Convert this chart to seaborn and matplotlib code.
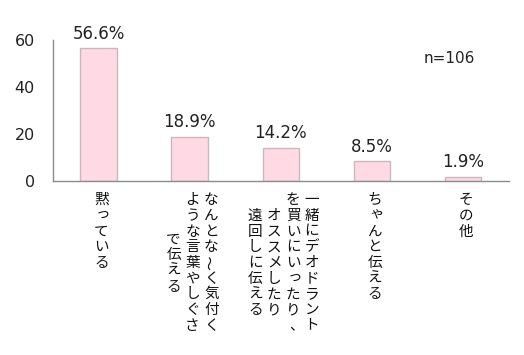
import matplotlib
matplotlib.use("Agg")
import matplotlib.pyplot as plt
import seaborn as sns
import pandas as pd

# answers (as shown in the survey chart) and percentages
categories = [
    "黙っている",
    "なんとな～く気付くような言葉やしぐさで伝える",
    "一緒にデオドラントを買いにいったり、オススメしたり遠回しに伝える",
    "ちゃんと伝える",
    "その他",
]
values = [56.6, 18.9, 14.2, 8.5, 1.9]
# vertical label columns, right to left
label_columns = [
    ["黙っている"],
    ["なんとな～く気付く", "ような言葉やしぐさ", "で伝える"],
    ["一緒にデオドラント", "を買いにいったり、", "オススメしたり", "遠回しに伝える"],
    ["ちゃんと伝える"],
    ["その他"],
]
y_ticks = [0, 20, 40, 60]
n_text = "n=106"

sns.set_style("white")
plt.rcParams["font.family"] = ["DejaVu Sans", "Noto Sans CJK JP"]

df = pd.DataFrame({"answer": categories, "pct": values})

fig = plt.figure(figsize=(5.24, 3.55), dpi=100)
ax = fig.add_axes([0.101, 0.490, 0.870, 0.397])

sns.barplot(data=df, x="answer", y="pct", ax=ax, width=0.4,
            color="#FFDAE4", edgecolor="#C9B9BE", linewidth=1.0,
            saturation=1)

ax.set_ylim(0, 60)
ax.set_xlim(-0.5, len(categories) - 0.5)
ax.set_yticks(y_ticks)
ax.set_xticks([i - 0.5 for i in range(len(categories) + 1)])
ax.set_xticklabels([])
ax.set_xlabel("")
ax.set_ylabel("")
sns.despine(ax=ax)
for side in ["left", "bottom"]:
    ax.spines[side].set_color("#8C8C8C")
    ax.spines[side].set_linewidth(1.0)
ax.tick_params(axis="y", length=3, width=1, color="#8C8C8C", pad=10,
               labelsize=11.5, labelcolor="#222222")
ax.tick_params(axis="x", length=4, width=1, color="#8C8C8C")

ax.bar_label(ax.containers[0], labels=[f"{v:.1f}%" for v in values],
             padding=4, fontsize=12, color="#222222")

ax.text(0.87, 0.872, n_text, transform=ax.transAxes, ha="center",
        va="center", fontsize=11, color="#222222")

# vertical japanese labels, one glyph at a time
small = set("っゃゅょぁぃぅぇぉッャュョ")
step = 11.3   # points between characters
col_gap = 13.6
top = -13.8
jp = ["Noto Sans CJK JP"]
for i, cols in enumerate(label_columns):
    longest = max(len(c) for c in cols)
    ncol = len(cols)
    for j, col in enumerate(cols):
        x_off = 2 + ((ncol - 1) / 2 - j) * col_gap
        start = top - (longest - len(col)) / 2 * step
        for k, ch in enumerate(col):
            dx, dy, rot = 0, 0, 0
            if ch in small:
                dx, dy = 1.2, 1.2
            elif ch == "、":
                dx, dy = 2.5, 0
            elif ch == "～":
                rot = 90
            ax.annotate(ch, xy=(i, 0), xycoords=ax.get_xaxis_transform(),
                        xytext=(x_off + dx, start - k * step + dy),
                        textcoords="offset points", ha="center",
                        va="center", fontsize=10.5, family=jp,
                        rotation=rot, color="#111111",
                        annotation_clip=False)

fig.savefig("out.png", dpi=100)
